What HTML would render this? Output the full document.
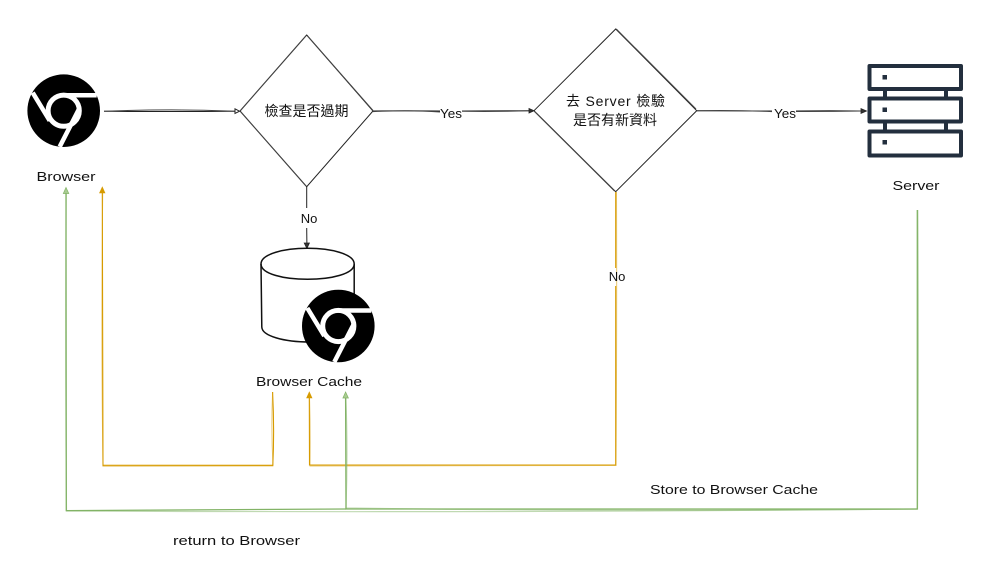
<!DOCTYPE html>
<html><head><meta charset="utf-8"><style>
html,body{margin:0;padding:0;background:#fff;width:998px;height:582px;overflow:hidden}
svg{display:block}
text{font-family:"Liberation Sans","Noto Sans CJK TC",sans-serif;fill:#111;text-anchor:middle;font-size:13px}
.c{font-size:14px}
.k{fill:none;stroke:#222;stroke-width:1}
.k2{fill:none;stroke:#444;stroke-width:1}
.o{fill:none;stroke:#d79b00;stroke-width:1.1}
.o2{fill:none;stroke:#d79b00;stroke-width:1;opacity:.55}
.g{fill:none;stroke:#82b366;stroke-width:1.3}
.g2{fill:none;stroke:#82b366;stroke-width:1.2;opacity:.5}
</style></head><body>
<svg width="998" height="582" viewBox="0 0 998 582" xmlns="http://www.w3.org/2000/svg">
<rect width="998" height="582" fill="#fff"/>
<defs>
<g id="chrome">
<circle cx="0" cy="0" r="36.3" fill="#000"/>
<circle cx="0" cy="0" r="15.6" fill="none" stroke="#fff" stroke-width="5"/>
<path d="M-31 -18 L-14 10 M33 -15.5 L-1 -15.5 M-4 36 L16 -3" fill="none" stroke="#fff" stroke-width="4.5"/>
</g>
</defs>

<!-- browser to diamond -->
<path class="k" d="M104 111.3 Q170 111.8 236 111.3"/>
<path class="k2" d="M104 111.3 Q170 108.6 236 111.2"/>
<path d="M235 108.8 L239.5 111.2 L235 113.4Z" fill="#fff" stroke="#222" stroke-width="1"/>

<!-- diamonds -->
<path class="k" d="M306.7 35 L373 111 L306.7 186.7 L240 111Z"/>
<path class="k2" d="M306.2 35.5 L240.5 110.5 M240.5 111.5 L306 186 M373 110.5 L307.5 36"/>
<path class="k" d="M615.7 29 L696.7 110.7 L615.7 191.7 L534 110.7Z"/>
<path class="k2" d="M616.3 29 L696 109 M534.5 111.5 L614.5 191"/>

<!-- yes connectors -->
<path class="k" d="M373 111 Q410 110.6 440 111 M462 111 Q495 110.7 530 110.8"/>
<path class="k2" d="M373 111.6 Q410 110 440 112 M462 111.3 Q495 111.8 530 110.8"/>
<path d="M529 108.5 L534 110.8 L529 113Z" fill="#333" stroke="#222" stroke-width=".8"/>
<path class="k" d="M697 110.7 Q735 111 772 111 M796 111 Q830 110.6 862 111"/>
<path class="k2" d="M697 110.7 Q735 110 772 111.6 M796 111.5 Q830 111.6 862 111"/>
<path d="M861 108.6 L866.5 111 L861 113.4Z" fill="#333" stroke="#222" stroke-width=".8"/>
<text x="451" y="118" textLength="22" lengthAdjust="spacingAndGlyphs">Yes</text>
<text x="785" y="118" textLength="22" lengthAdjust="spacingAndGlyphs">Yes</text>

<!-- no connector -->
<path class="k" d="M306.7 187 L306.7 208 M306.7 228 L306.9 245"/>
<path d="M304.2 243 L306.9 248.5 L309.4 243Z" fill="#333" stroke="#222" stroke-width=".8"/>
<text x="309" y="223">No</text>

<!-- cylinder -->
<path d="M261.5 264 C261.5 254 284 248.5 307.5 248.5 C331 248.5 354 254 354 264 L354.5 330 L261.8 328 Z" fill="#fff"/>
<path d="M261 264 C261 254 284 248.3 307.5 248.3 C331 248.3 354.2 254 354.2 264 C354.2 274 331 279.3 307.5 279.3 C284 279.3 261 274 261 264 Z" fill="none" stroke="#111" stroke-width="1.5"/>
<path d="M261 264 L261.8 327 C262 336 284 342 310 342 M354.2 264 L354.2 300" fill="none" stroke="#111" stroke-width="1.5"/>

<!-- chrome icons -->
<use href="#chrome" x="63.7" y="110.7"/>
<use href="#chrome" x="338.3" y="326"/>

<!-- server icon -->
<g fill="#fff" stroke="#232f3e" stroke-width="4" stroke-linejoin="round">
<rect x="869.5" y="66" width="91.5" height="23"/>
<rect x="869.5" y="98.5" width="91.5" height="23"/>
<rect x="869.5" y="131.5" width="91.5" height="24"/>
</g>
<g fill="#232f3e">
<rect x="883" y="90" width="4" height="7"/><rect x="944" y="90" width="4" height="7"/>
<rect x="883" y="123" width="4" height="7"/><rect x="944" y="123" width="4" height="7"/>
<rect x="882.5" y="75" width="4.5" height="4.5"/>
<rect x="882.5" y="107.5" width="4.5" height="4.5"/>
<rect x="882.5" y="140" width="4.5" height="4.5"/>
</g>

<!-- orange connectors -->
<path class="o" d="M272.6 392 Q274.5 430 272.8 465.7 L103 465.8 L102.3 192"/>
<path class="o2" d="M272.6 392 Q271 430 273 465 L103 465 Q101 340 102.7 192"/>
<path d="M99.5 193 L102.3 187 L105 193Z" fill="#d79b00" stroke="#d79b00" stroke-width=".6"/>
<path class="o" d="M615.7 192 L615.7 268 M615.7 286 L615.7 465 L309.5 465 L309.3 397"/>
<path class="o2" d="M616.5 192 Q617 330 616 465.5 L310 466 Q310.5 430 309.5 397"/>
<path d="M306.6 398 L309.3 392 L312 398Z" fill="#d79b00" stroke="#d79b00" stroke-width=".6"/>
<text x="617" y="281">No</text>

<!-- green connectors -->
<path class="g" d="M917.3 210 L917.3 509 L346 509 L345.6 397"/>
<path class="g2" d="M917.8 210 Q919 360 917.5 509 Q630 512 346 508 Q348 450 345.8 397"/>
<path class="g" d="M346 509 L66.3 510.6 L66 193"/>
<path class="g2" d="M917 509 Q500 513 66.5 511 Q65 350 66.2 193"/>
<path d="M63.3 193.5 L66 187.5 L68.8 193.5Z" fill="#a9cc92" stroke="#82b366" stroke-width=".7"/>
<path d="M342.9 398 L345.6 392 L348.4 398Z" fill="#a9cc92" stroke="#82b366" stroke-width=".7"/>

<!-- labels -->
<text x="66" y="181" textLength="59" lengthAdjust="spacingAndGlyphs">Browser</text>
<text x="916" y="190" textLength="47" lengthAdjust="spacingAndGlyphs">Server</text>
<text x="309" y="386" textLength="106" lengthAdjust="spacingAndGlyphs">Browser Cache</text>
<text x="734" y="494" textLength="168" lengthAdjust="spacingAndGlyphs">Store to Browser Cache</text>
<text x="236.5" y="545" textLength="127" lengthAdjust="spacingAndGlyphs">return to Browser</text>
<text class="c" x="306.5" y="116">檢查是否過期</text>
<text class="c" x="615.5" y="106" textLength="99" lengthAdjust="spacing">去 Server 檢驗</text>
<text class="c" x="615" y="125">是否有新資料</text>
</svg>
</body></html>
